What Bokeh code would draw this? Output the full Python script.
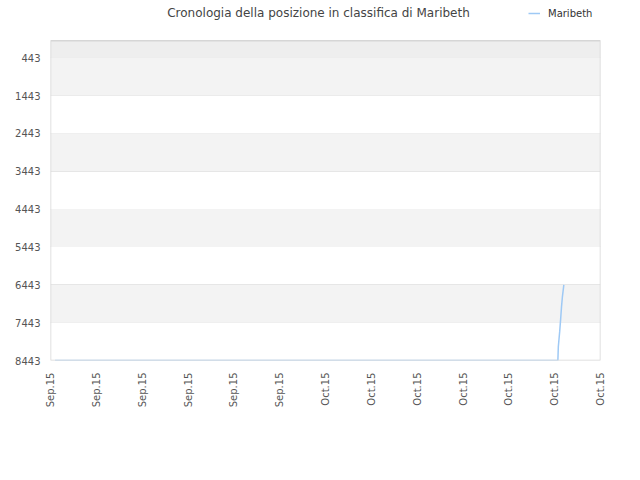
from bokeh.plotting import figure
from bokeh.models import Range1d, FixedTicker, BoxAnnotation, Legend, LegendItem, ColumnDataSource, Label
from bokeh.embed import file_html
from bokeh.resources import INLINE
import math

# data
x_ticks = [0, 1, 2, 3, 4, 5, 6, 7, 8, 9, 10, 11, 12]
x_tick_labels = ["Sep.15", "Sep.15", "Sep.15", "Sep.15", "Sep.15", "Sep.15",
                 "Oct.15", "Oct.15", "Oct.15", "Oct.15", "Oct.15", "Oct.15", "Oct.15"]
y_ticks = [443, 1443, 2443, 3443, 4443, 5443, 6443, 7443, 8443]
series_name = "Maribeth"
title_text = "Cronologia della posizione in classifica di Maribeth"
xs = [0.1, 11.07, 11.08, 11.11, 11.13, 11.15, 11.17, 11.2]
ys = [8443, 8443, 8072, 7675, 7357, 7012, 6747, 6443]

y_top = -7          # top of the plotting area
y_canvas_top = -1067  # frame extends up to the canvas top (room for title/legend)

FONT = "DejaVu Sans"
GRID = "#e2e2e2"
EDGE = "#d6d6d6"

p = figure(width=624, height=464, output_backend="svg", toolbar_location=None,
           x_range=Range1d(x_ticks[0], x_ticks[-1]),
           y_range=Range1d(y_ticks[-1], y_canvas_top),
           min_border_left=50, min_border_right=24, min_border_top=0, min_border_bottom=104)

p.background_fill_color = "white"
p.border_fill_color = "white"
p.outline_line_color = None

# bands
p.add_layout(BoxAnnotation(top=y_top, bottom=y_ticks[0], fill_color="#eeeeee", fill_alpha=1,
                           line_color=None, level="underlay"))
for i in range(0, len(y_ticks) - 1, 2):
    p.add_layout(BoxAnnotation(top=y_ticks[i], bottom=y_ticks[i + 1], fill_color="#f3f3f3",
                               fill_alpha=1, line_color=None, level="underlay"))
# plot-area outline
p.add_layout(BoxAnnotation(top=y_top, bottom=y_ticks[-1], left=x_ticks[0], right=x_ticks[-1],
                           fill_alpha=0, line_color=EDGE, line_alpha=1, line_width=1.5,
                           level="overlay"))

p.xgrid.grid_line_color = None
p.ygrid.grid_line_color = GRID
p.ygrid.ticker = FixedTicker(ticks=y_ticks)

p.xaxis.ticker = FixedTicker(ticks=x_ticks)
p.xaxis.major_label_overrides = {t: l for t, l in zip(x_ticks, x_tick_labels)}
p.xaxis.major_label_orientation = math.pi / 2
p.yaxis.ticker = FixedTicker(ticks=y_ticks)

for ax in (p.xaxis, p.yaxis):
    ax.axis_line_color = None
    ax.major_tick_line_color = None
    ax.minor_tick_line_color = None
    ax.major_tick_out = 0
    ax.major_tick_in = 0
    ax.minor_tick_out = 0
    ax.major_label_text_font = FONT
    ax.major_label_text_font_size = "10px"
    ax.major_label_text_color = "#555555"
p.xaxis.major_label_standoff = 12
p.yaxis.major_label_standoff = 10

src = ColumnDataSource(dict(x=xs, y=ys))
r = p.line("x", "y", source=src, line_color="#9ec9f5", line_width=1.5)

# title (screen units relative to the frame's bottom-left)
p.add_layout(Label(x=268, y=348, x_units="screen", y_units="screen", text=title_text,
                   text_font=FONT, text_font_size="12px", text_color="#444444",
                   text_align="center", text_baseline="middle"))

legend = Legend(items=[LegendItem(label=series_name, renderers=[r])], location=(478, 341),
                border_line_color=None, background_fill_alpha=0, padding=0, margin=0,
                glyph_width=12, glyph_height=12, label_standoff=8, label_height=12,
                label_text_font=FONT, label_text_font_size="10px", label_text_color="#333333")
p.add_layout(legend, "center")

open("out.html", "w").write(file_html(p, INLINE))
